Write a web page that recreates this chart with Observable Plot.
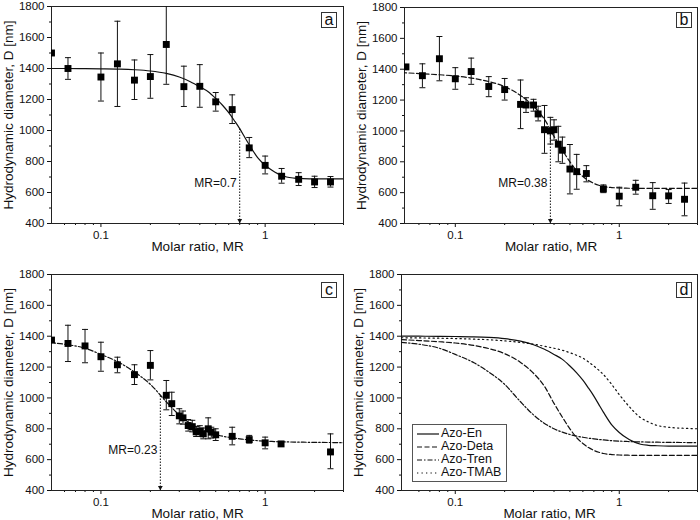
<!DOCTYPE html>
<html><head><meta charset="utf-8">
<script src="https://cdn.jsdelivr.net/npm/d3@7"></script>
<script src="https://cdn.jsdelivr.net/npm/@observablehq/plot@0.6"></script>
<style>
body{margin:0;background:#fff;font-family:"Liberation Sans",Arial,sans-serif;}
#wrap{position:relative;width:700px;height:520px;overflow:hidden;background:#fff;}
.panel{position:absolute;width:350px;height:260px;}
.tag{position:absolute;width:14px;height:14px;border:1px solid #333;font-size:16px;line-height:13px;text-align:center;color:#111;background:#fff;}
.legend{position:absolute;border:1px solid #555;background:#fff;padding:2px 5px 2px 4px;font-size:12.5px;color:#111;}
.legend div{display:flex;align-items:center;height:13px;line-height:13px;}
.legend svg{margin-right:2px;}
</style></head>
<body><div id="wrap"></div>
<script>
// ---- axes ----
const yDomain = [400, 1800];
const yMajor = [400, 600, 800, 1000, 1200, 1400, 1600, 1800];
const yMinor = [500, 700, 900, 1100, 1300, 1500, 1700];
const xMajor = [0.1, 1];
const xMinor = [0.06, 0.07, 0.08, 0.09, 0.2, 0.3, 0.4, 0.5, 0.6, 0.7, 0.8, 0.9, 2, 3];
const yTitle = "Hydrodynamic diameter, D [nm]";
const xTitle = "Molar ratio, MR";

// ---- panel a: Azo-En ----
const mrA = [0.05, 0.063, 0.1, 0.126, 0.16, 0.2, 0.25, 0.32, 0.4, 0.5, 0.63, 0.8, 1, 1.26, 1.6, 2, 2.5];
const dA  = [1500, 1400, 1345, 1430, 1325, 1348, 1555, 1283, 1285, 1185, 1135, 888, 775, 705, 685, 668, 668];
const loA = [null, 1330, 1190, 1155, 1200, 1208, 1298, 1155, 1150, 1125, 1045, 825, 720, 660, 645, 632, 635];
const hiA = [null, 1470, 1500, 1705, 1455, 1490, 1830, 1415, 1425, 1245, 1230, 955, 835, 755, 728, 705, 703];

// ---- panel b: Azo-Deta ----
const mrB = [0.05, 0.063, 0.08, 0.1, 0.125, 0.16, 0.2, 0.25, 0.27, 0.3, 0.32, 0.35, 0.38, 0.4, 0.425, 0.45, 0.5, 0.55, 0.63, 0.8, 1, 1.26, 1.6, 2, 2.5];
const dB  = [1415, 1358, 1468, 1338, 1385, 1288, 1268, 1172, 1168, 1168, 1110, 1008, 1000, 1008, 914, 875, 753, 736, 724, 624, 577, 635, 580, 579, 557];
const loB = [null, 1280, 1325, 1270, 1302, 1222, 1200, 1015, 1120, 1128, 1065, 855, 915, 940, 800, 790, 592, 622, 670, 600, 515, 590, 492, 530, 450];
const hiB = [null, 1435, 1612, 1410, 1472, 1352, 1340, 1330, 1215, 1205, 1160, 1165, 1088, 1072, 1030, 960, 912, 848, 775, 650, 635, 680, 665, 620, 662];

// ---- panel c: Azo-Tren ----
const mrC = [0.05, 0.063, 0.08, 0.1, 0.126, 0.16, 0.2, 0.25, 0.27, 0.3, 0.316, 0.34, 0.36, 0.38, 0.4, 0.42, 0.45, 0.47, 0.5, 0.63, 0.8, 1, 1.25, 2.5];
const dC  = [1375, 1353, 1337, 1267, 1215, 1151, 1211, 1017, 963, 884, 871, 821, 814, 780, 785, 767, 800, 778, 761, 751, 730, 709, 702, 650];
const loC = [null, 1236, 1228, 1173, 1163, 1087, 1117, 923, 886, 832, 830, 785, 780, 750, 750, 735, 735, 740, 724, 696, 707, 670, 687, 541];
const hiC = [null, 1471, 1444, 1361, 1264, 1215, 1307, 1113, 1037, 930, 915, 860, 855, 815, 820, 805, 871, 810, 800, 810, 757, 746, 713, 767];

// ---- fitted curves ----
const cx    = [0.047, 0.06, 0.08, 0.1, 0.13, 0.16, 0.2, 0.25, 0.3, 0.35, 0.4, 0.45, 0.5, 0.55, 0.6, 0.65, 0.7, 0.75, 0.8, 0.9, 1, 1.1, 1.2, 1.35, 1.5, 1.7, 2, 2.5, 3];
const cEn   = [1400, 1400, 1399, 1398, 1396, 1392, 1384, 1368, 1345, 1315, 1282, 1250, 1207, 1163, 1115, 1063, 1012, 958, 908, 825, 776, 743, 720, 700, 693, 690, 688, 688, 688];
const cDeta = [1378, 1372, 1364, 1356, 1340, 1320, 1287, 1230, 1160, 1075, 965, 875, 800, 742, 705, 678, 660, 648, 640, 633, 630, 629, 628, 628, 628, 628, 628, 628, 628];
const cTren = [1360, 1348, 1322, 1282, 1228, 1168, 1088, 975, 890, 835, 800, 778, 763, 752, 745, 739, 735, 731, 728, 723, 720, 718, 716, 715, 714, 713, 712, 711, 710];
const cTmab = [1390, 1389, 1387, 1385, 1381, 1377, 1370, 1360, 1348, 1335, 1322, 1309, 1293, 1276, 1258, 1233, 1207, 1180, 1152, 1087, 1022, 968, 922, 872, 845, 822, 810, 803, 800];

// ---- annotations ----
const annMR    = [0.7, 0.38, 0.23];
const annTop   = [1012, 1004, 1010];
const annLabel = ["MR=0.7", "MR=0.38", "MR=0.23"];

const seriesNames = ["Azo-En", "Azo-Deta", "Azo-Tren", "Azo-TMAB"];
const dashes = {"Azo-En": null, "Azo-Deta": "5,2.5", "Azo-Tren": "5,2,1.5,2", "Azo-TMAB": "1.3,3.2"};
const curves = {"Azo-En": cEn, "Azo-Deta": cDeta, "Azo-Tren": cTren, "Azo-TMAB": cTmab};

const ink = "#111";
const cap = {draw(ctx) { ctx.moveTo(-3, 0); ctx.lineTo(3, 0); }};

function curveMark(name) {
  const rows = cx.map((x, i) => ({x, y: curves[name][i]}));
  return Plot.line(rows, {x: "x", y: "y", stroke: ink, strokeWidth: 1.2, strokeDasharray: dashes[name], curve: "monotone-x", clip: true});
}

function baseMarks() {
  return [
    Plot.axisY({ticks: yMajor, tickSize: 4, tickPadding: 3, tickFormat: d => String(d), label: null, fontSize: 11.5}),
    Plot.axisY({ticks: yMinor, tickSize: 2, tickFormat: () => "", label: null}),
    Plot.axisX({ticks: xMajor, tickSize: 4, tickPadding: 3, tickFormat: d => String(d), label: null, fontSize: 11.5}),
    Plot.axisX({ticks: xMinor, tickSize: 2, tickFormat: () => "", label: null}),
    Plot.text([yTitle], {text: d => d, frameAnchor: "left", textAnchor: "middle", lineAnchor: "middle", dx: -43, rotate: -90, fontSize: 13.5, fill: ink}),
    Plot.text([xTitle], {text: d => d, frameAnchor: "bottom", textAnchor: "middle", lineAnchor: "middle", dy: 23, fontSize: 13.5, fill: ink}),
    Plot.frame({stroke: "#222", strokeWidth: 1})
  ];
}

function dataMarks(mr, d, lo, hi) {
  const rows = mr.map((x, i) => ({x, y: d[i], lo: lo[i], hi: hi[i]}));
  const err = rows.filter(r => r.lo != null);
  return [
    Plot.ruleX(err, {x: "x", y1: "lo", y2: "hi", stroke: ink, strokeWidth: 1, clip: true}),
    Plot.dot(err, {x: "x", y: "lo", symbol: cap, stroke: ink, fill: "none", strokeWidth: 1, clip: true}),
    Plot.dot(err, {x: "x", y: "hi", symbol: cap, stroke: ink, fill: "none", strokeWidth: 1, clip: true}),
    Plot.dot(rows, {x: "x", y: "y", symbol: "square", r: 3.9, fill: "#000", stroke: "none", clip: true})
  ];
}

function annMarks(i) {
  const a = [{x: annMR[i], top: annTop[i], label: annLabel[i], bottom: yDomain[0]}];
  return [
    Plot.ruleX(a, {x: "x", y1: "bottom", y2: "top", stroke: ink, strokeWidth: 1, strokeDasharray: "1.5,1.5"}),
    Plot.dot(a, {x: "x", y: "bottom", symbol: "triangle", rotate: 180, r: 1.8, fill: ink, stroke: "none", dy: -3}),
    Plot.text(a, {x: "x", text: "label", frameAnchor: "bottom", lineAnchor: "middle", dy: -40, dx: -3, textAnchor: "end", fontSize: 12, fill: ink})
  ];
}

function makePlot(m, xDomain, marks) {
  return Plot.plot({
    width: 350, height: 260,
    marginLeft: m[0], marginRight: m[1], marginTop: m[2], marginBottom: m[3],
    x: {type: "log", domain: xDomain},
    y: {domain: yDomain},
    style: {fontFamily: "'Liberation Sans', Arial, sans-serif", color: ink, background: "transparent", overflow: "visible"},
    marks: [...baseMarks(), ...marks]
  });
}

const wrap = document.getElementById("wrap");
function place(node, left, top) {
  const div = document.createElement("div");
  div.className = "panel";
  div.style.left = left + "px";
  div.style.top = top + "px";
  div.appendChild(node);
  wrap.appendChild(div);
}

place(makePlot([51, 7, 6, 37], [0.05, 3], [curveMark("Azo-En"), ...annMarks(0), ...dataMarks(mrA, dA, loA, hiA)]), 0, 0);
place(makePlot([54, 3, 7, 37], [0.049, 3], [curveMark("Azo-Deta"), ...annMarks(1), ...dataMarks(mrB, dB, loB, hiB)]), 350, 0);
place(makePlot([51, 7, 14, 30], [0.05, 3], [curveMark("Azo-Tren"), ...annMarks(2), ...dataMarks(mrC, dC, loC, hiC)]), 0, 260);
place(makePlot([51, 3, 14, 30], [0.047, 3], seriesNames.map(curveMark)), 350, 260);

// panel tags
const tags = [["a", 321, 12], ["b", 676, 12], ["c", 321, 282], ["d", 676, 282]];
for (const [t, l, tp] of tags) {
  const el = document.createElement("div");
  el.className = "tag";
  el.style.left = l + "px"; el.style.top = tp + "px";
  el.textContent = t;
  wrap.appendChild(el);
}

// legend in panel d
const lg = document.createElement("div");
lg.className = "legend";
lg.style.left = "412px"; lg.style.top = "424px";
for (const name of seriesNames) {
  const row = document.createElement("div");
  const ns = "http://www.w3.org/2000/svg";
  const s = document.createElementNS(ns, "svg");
  s.setAttribute("width", "22"); s.setAttribute("height", "6");
  const ln = document.createElementNS(ns, "line");
  ln.setAttribute("x1", "0"); ln.setAttribute("x2", "22");
  ln.setAttribute("y1", "3"); ln.setAttribute("y2", "3");
  ln.setAttribute("stroke", ink); ln.setAttribute("stroke-width", "1.2");
  if (dashes[name]) ln.setAttribute("stroke-dasharray", dashes[name]);
  s.appendChild(ln);
  row.appendChild(s);
  const sp = document.createElement("span");
  sp.textContent = name;
  row.appendChild(sp);
  lg.appendChild(row);
}
wrap.appendChild(lg);
</script>
</body></html>
